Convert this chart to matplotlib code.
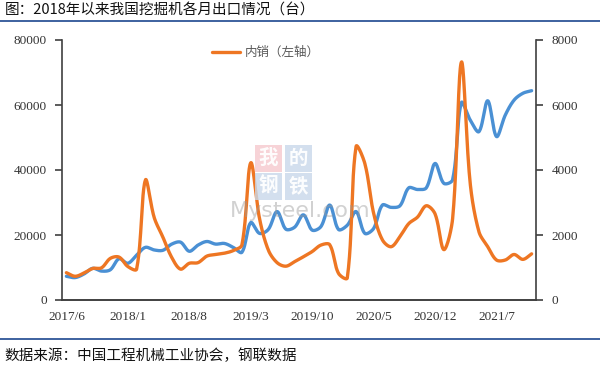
import numpy as np
import matplotlib
matplotlib.use('Agg')
import matplotlib.pyplot as plt
from matplotlib.patches import Rectangle

plt.rcParams['font.family'] = ['Noto Sans CJK SC', 'DejaVu Sans']

# ---- data ----
months = [f"{2017 + (5 + i) // 12}/{(5 + i) % 12 + 1}" for i in range(54)]
tick_labels = ['2017/6', '2018/1', '2018/8', '2019/3', '2019/10', '2020/5', '2020/12', '2021/7']

domestic = [8400, 7300, 8300, 9700, 9900, 12800, 13200, 10300, 9500, 36900,
            25400, 19300, 13100, 9500, 11300, 11500, 13500, 14000, 14400, 15200,
            17000, 42200, 25100, 15400, 11500, 10400, 11800, 13300, 14900, 16900,
            17000, 8200, 6800, 47200, 42000, 26700, 18500, 16400, 19500, 23500,
            25500, 29000, 26500, 15500, 25000, 73200, 36000, 21000, 16400, 12300,
            12300, 14000, 12500, 14200]

exports = [730, 690, 800, 975, 890, 930, 1270, 1130, 1380, 1620,
           1540, 1530, 1720, 1780, 1500, 1690, 1800, 1720, 1740, 1620,
           1470, 2380, 2050, 2170, 2720, 2180, 2240, 2620, 2150, 2260,
           2920, 2170, 2300, 2720, 2050, 2200, 2920, 2850, 2900, 3450,
           3400, 3450, 4200, 3590, 3700, 6070, 5540, 5180, 6130, 5030,
           5690, 6150, 6360, 6440]

legend_label = '内销（左轴）'
title = '图：2018年以来我国挖掘机各月出口情况（台）'
source = '数据来源：中国工程机械工业协会，钢联数据'


def smooth(y, sx, sy, n=24, f=1.0 / 3):
    """Spreadsheet-like smoothed line: Bezier segments whose control arms are
    scaled by segment lengths measured in screen pixels (sx, sy = px per unit)."""
    y = np.asarray(y, dtype=float)
    P = np.column_stack([np.arange(len(y)) * sx, y * sy])
    m = len(P)
    t = np.linspace(0, 1, n, endpoint=False)[:, None]
    out = []
    for i in range(m - 1):
        p0 = P[i - 1] if i > 0 else P[i]
        p1, p2 = P[i], P[i + 1]
        p3 = P[i + 2] if i + 2 < m else P[i + 1]
        d01 = np.linalg.norm(p1 - p0)
        d12 = np.linalg.norm(p2 - p1)
        d23 = np.linalg.norm(p3 - p2)
        r1 = d12 / (d01 + d12) if d01 + d12 > 0 else 0
        r2 = d12 / (d12 + d23) if d12 + d23 > 0 else 0
        c1 = p1 + (p2 - p0) * f * r1
        c2 = p2 - (p3 - p1) * f * r2
        seg = ((1 - t) ** 3) * p1 + 3 * ((1 - t) ** 2) * t * c1 + 3 * (1 - t) * t ** 2 * c2 + t ** 3 * p2
        out.append(seg)
    out.append(P[-1:])
    out = np.vstack(out)
    return out[:, 0] / sx, out[:, 1] / sy


fig = plt.figure(figsize=(6, 3.7), dpi=100)
ax = fig.add_axes([62 / 600, 1 - 300 / 370, (536 - 62) / 600, 260 / 370])
ax2 = ax.twinx()

orange = '#EE7623'
blue = '#4A90D4'
axis_c = '#404040'
serif = ['Liberation Serif', 'DejaVu Serif']

px_per_month = 474 / len(months)
xo, yo = smooth(domestic, px_per_month, 260 / 80000)
xb, yb = smooth(exports, px_per_month, 260 / 8000)
ax2.plot(xb, yb, color=blue, lw=2.4, solid_capstyle='round', zorder=3)
ax.plot(xo, yo, color=orange, lw=2.4, solid_capstyle='round', label=legend_label, zorder=4)
ax.set_zorder(ax2.get_zorder() + 1)
ax.patch.set_visible(False)

ax.set_xlim(-0.5, len(months) - 0.5)
ax.set_ylim(0, 80000)
ax2.set_ylim(0, 8000)
ax.set_yticks(np.arange(0, 80001, 20000))
ax2.set_yticks(np.arange(0, 8001, 2000))
tick_pos = [months.index(t) for t in tick_labels]
ax.set_xticks(tick_pos)
ax.set_xticklabels(tick_labels)

for a in (ax, ax2):
    a.spines['top'].set_visible(False)
    for s in ('left', 'right', 'bottom'):
        a.spines[s].set_color(axis_c)
        a.spines[s].set_linewidth(1.2)
    a.tick_params(axis='y', direction='out', length=5, width=1.2, color=axis_c,
                  labelsize=9.5, labelcolor='#333333', pad=6)
    for lab in a.get_yticklabels():
        lab.set_fontfamily(serif)
ax.tick_params(axis='x', length=0, labelsize=9.5, labelcolor='#333333', pad=8)
for lab in ax.get_xticklabels():
    lab.set_fontfamily(serif)
ax2.spines['left'].set_visible(False)
ax.spines['right'].set_visible(False)

leg = ax.legend(loc='upper center', bbox_to_anchor=(0.43, 1.02), frameon=False,
                fontsize=9, handlelength=2.2, handletextpad=0.4)
for t in leg.get_texts():
    t.set_color('#595959')

# watermark
wm_boxes = [(255, 145, '我', '#F5C9CD'), (285, 145, '的', '#C9D8EA'),
            (255, 173, '钢', '#C9D8EA'), (285, 173, '铁', '#C9D8EA')]
for x0, y0, ch, bg in wm_boxes:
    fig.patches.append(Rectangle((x0 / 600, 1 - (y0 + 27) / 370), 27 / 600, 27 / 370,
                                 transform=fig.transFigure, facecolor=bg,
                                 edgecolor='none', alpha=0.8, zorder=1))
    fig.text((x0 + 13.5) / 600, 1 - (y0 + 13.5) / 370, ch, ha='center', va='center',
             fontsize=14, color='white', fontweight='bold', alpha=0.95, zorder=2)
fig.text(300 / 600, 1 - 211 / 370, 'Mysteel.com', ha='center', va='center',
         fontsize=16, color='#9A9A9A', alpha=0.45, family=['DejaVu Sans'], zorder=2)

# title, rules, source
fig.text(5 / 600, 1 - 11 / 370, title, ha='left', va='center', fontsize=10.5, color='#111111')
fig.add_artist(plt.Line2D([0, 1], [1 - 21 / 370, 1 - 21 / 370], color='#2E5597', lw=1.3,
                          transform=fig.transFigure))
fig.add_artist(plt.Line2D([0, 1], [1 - 339 / 370, 1 - 339 / 370], color='#2E5597', lw=1.3,
                          transform=fig.transFigure))
fig.text(4 / 600, 1 - 356 / 370, source, ha='left', va='center', fontsize=10.5, color='#111111')

fig.savefig('out.png', dpi=100)
